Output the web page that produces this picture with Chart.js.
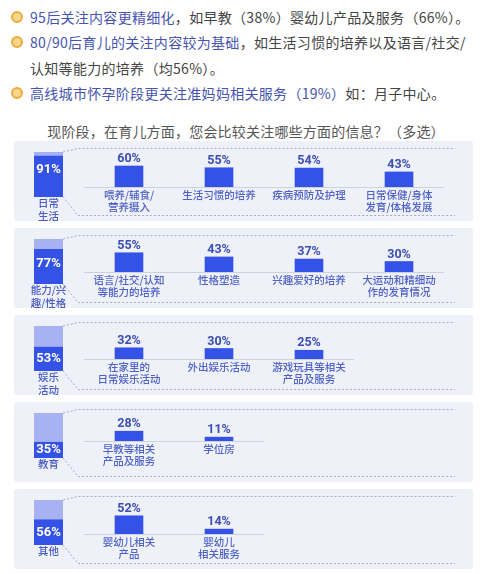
<!DOCTYPE html>
<html>
<head>
<meta charset="utf-8">
<script src="https://cdn.jsdelivr.net/npm/chart.js@4.4.1/dist/chart.umd.min.js"></script>
<style>
body{margin:0;background:#fff;width:482px;height:574px;overflow:hidden;position:relative;font-family:"Noto Sans CJK SC","Noto Sans",sans-serif;}
.note{position:absolute;left:30px;font-size:14px;line-height:20px;color:#444;white-space:nowrap;letter-spacing:0.3px;}
.note b{font-weight:normal;color:#4654b0;}
.dot{position:absolute;left:11px;width:8px;height:8px;border-radius:50%;background:#f8d68a;border:2px solid #eeaa3c;}
.title{position:absolute;top:121px;left:5px;width:482px;text-align:center;font-size:14px;line-height:20px;color:#555;letter-spacing:0.2px;}
.panel{position:absolute;left:14px;width:459px;height:80px;background:#eef1f8;border-radius:3px;}
.panel canvas{position:absolute;left:0;top:0;}
</style>
</head>
<body>
<span class="dot" style="top:11px"></span>
<div class="note" style="top:7px"><b>95后关注内容更精细化</b>，如早教（38%）婴幼儿产品及服务（66%）。</div>
<span class="dot" style="top:36px"></span>
<div class="note" style="top:32px"><b>80/90后育儿的关注内容较为基础</b>，如生活习惯的培养以及语言/社交/</div>
<div class="note" style="top:58px">认知等能力的培养（均56%）。</div>
<span class="dot" style="top:87px"></span>
<div class="note" style="top:83px"><b>高线城市怀孕阶段更关注准妈妈相关服务（19%）</b>如：月子中心。</div>
<div class="title">现阶段，在育儿方面，您会比较关注哪些方面的信息？（多选）</div>
<div id="panels"></div>
<script>
// 大类
const groupLabels = [['日常', '生活'], ['能力/兴', '趣/性格'], ['娱乐', '活动'], ['教育'], ['其他']];
const groupValues = [91, 77, 53, 35, 56];

// 细项
const dailyItems = [['喂养/辅食/', '营养摄入'], ['生活习惯的培养'], ['疾病预防及护理'], ['日常保健/身体', '发育/体格发展']];
const dailyValues = [60, 55, 54, 43];
const abilityItems = [['语言/社交/认知', '等能力的培养'], ['性格塑造'], ['兴趣爱好的培养'], ['大运动和精细动', '作的发育情况']];
const abilityValues = [55, 43, 37, 30];
const playItems = [['在家里的', '日常娱乐活动'], ['外出娱乐活动'], ['游戏玩具等相关', '产品及服务']];
const playValues = [32, 30, 25];
const eduItems = [['早教等相关', '产品及服务'], ['学位房']];
const eduValues = [28, 11];
const otherItems = [['婴幼儿相关', '产品'], ['婴幼儿', '相关服务']];
const otherValues = [52, 14];

const itemLabels = [dailyItems, abilityItems, playItems, eduItems, otherItems];
const itemValues = [dailyValues, abilityValues, playValues, eduValues, otherValues];

const DARK = '#3552e6';
const LIGHT = '#a7b2f2';
const W = 459, H = 80;
const baseY = [46, 44, 44, 39, 45];

Chart.defaults.font.family = 'Roboto, "Noto Sans CJK SC", sans-serif';

const groupPlugin = {
	id: 'groupDeco',
	beforeDatasetsDraw(chart) {
		const ctx = chart.ctx;
		const bar = chart.getDatasetMeta(1).data[0];
		const right = bar.x + bar.width / 2;
		ctx.save();
		ctx.strokeStyle = '#a3abc6';
		ctx.lineWidth = 1;
		ctx.setLineDash([2, 2]);
		ctx.beginPath();
		ctx.moveTo(right, bar.y);
		ctx.lineTo(64, 7.5);
		ctx.lineTo(441, 7.5);
		ctx.moveTo(right, bar.base);
		ctx.lineTo(64, 74.5);
		ctx.lineTo(441, 74.5);
		ctx.stroke();
		ctx.restore();
	},
	afterDatasetsDraw(chart) {
		const ctx = chart.ctx;
		const dark = chart.getDatasetMeta(0).data[0];
		const v = chart.data.datasets[0].data[0];
		ctx.save();
		ctx.textAlign = 'center';
		ctx.textBaseline = 'middle';
		ctx.fillStyle = '#fff';
		ctx.font = 'bold 13px Roboto, "Noto Sans CJK SC"';
		const mid = Math.min((dark.y + dark.base) / 2, dark.y + 14);
		ctx.fillText(v + '%', dark.x, mid);
		ctx.fillStyle = '#4a5cc4';
		ctx.font = '500 10.5px "Noto Sans CJK SC"';
		chart.data.labels[0].forEach((line, k) => {
			ctx.fillText(line, dark.x, dark.base + 6.5 + k * 12.5);
		});
		ctx.restore();
	},
};

const itemPlugin = {
	id: 'itemDeco',
	beforeDatasetsDraw(chart) {
		const ctx = chart.ctx;
		const y0 = chart.scales.y.getPixelForValue(0);
		ctx.save();
		ctx.strokeStyle = '#ccd1de';
		ctx.lineWidth = 1;
		ctx.beginPath();
		ctx.moveTo(chart.chartArea.left, y0 + 0.5);
		ctx.lineTo(chart.chartArea.right, y0 + 0.5);
		ctx.stroke();
		ctx.restore();
	},
	afterDatasetsDraw(chart) {
		const ctx = chart.ctx;
		const ds = chart.data.datasets[0];
		ctx.save();
		ctx.textAlign = 'center';
		ctx.textBaseline = 'middle';
		chart.getDatasetMeta(0).data.forEach((bar, i) => {
			ctx.fillStyle = '#3c4db4';
			ctx.font = 'bold 12.5px Roboto, "Noto Sans CJK SC"';
			ctx.fillText(ds.data[i] + '%', bar.x, bar.y - 7);
			ctx.fillStyle = '#5062c8';
			ctx.font = '500 10.5px "Noto Sans CJK SC"';
			chart.data.labels[i].forEach((line, k) => {
				ctx.fillText(line, bar.x, bar.base + 8 + k * 12.5);
			});
		});
		ctx.restore();
	},
};

const makeCanvas = (panel) => {
	const canvas = document.createElement('canvas');
	canvas.width = W;
	canvas.height = H;
	canvas.style.width = W + 'px';
	canvas.style.height = H + 'px';
	panel.appendChild(canvas);
	return canvas;
};

const baseOptions = (padding) => ({
	responsive: false,
	animation: false,
	events: [],
	layout: { padding },
	plugins: { legend: { display: false }, tooltip: { enabled: false } },
});

const holder = document.getElementById('panels');
groupValues.forEach((value, i) => {
	const panel = document.createElement('div');
	panel.className = 'panel';
	panel.style.top = (141 + i * 87) + 'px';
	holder.appendChild(panel);

	// 左侧大类柱
	new Chart(makeCanvas(panel), {
		type: 'bar',
		data: {
			labels: [groupLabels[i]],
			datasets: [
				{ data: [value], backgroundColor: DARK, grouped: false },
				{ data: [100], backgroundColor: LIGHT, grouped: false },
			],
		},
		options: {
			...baseOptions({ left: 20, right: W - 49, top: 11, bottom: H - 56 }),
			datasets: { bar: { categoryPercentage: 1, barPercentage: 1 } },
			scales: {
				x: { display: false },
				y: { display: false, min: 0, max: 100 },
			},
		},
		plugins: [groupPlugin],
	});

	// 右侧细项柱
	const n = itemValues[i].length;
	new Chart(makeCanvas(panel), {
		type: 'bar',
		data: {
			labels: itemLabels[i],
			datasets: [{ data: itemValues[i], backgroundColor: DARK, barThickness: 28 }],
		},
		options: {
			...baseOptions({ left: 70, right: W - 70 - 90 * n, top: baseY[i] - 35, bottom: H - baseY[i] }),
			scales: {
				x: { display: false },
				y: { display: false, min: 0, max: 100 },
			},
		},
		plugins: [itemPlugin],
	});
});
</script>
</body>
</html>
